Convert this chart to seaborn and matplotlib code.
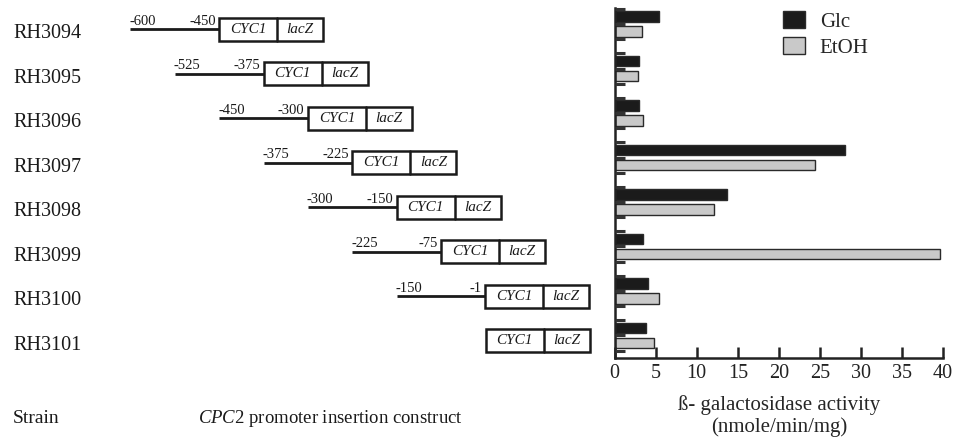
import numpy as np
import pandas as pd
import matplotlib
matplotlib.use("Agg")
import matplotlib.pyplot as plt
import matplotlib.transforms as mtransforms
from matplotlib.patches import Rectangle
import seaborn as sns

# ---------------- data ----------------
strains = ["RH3094", "RH3095", "RH3096", "RH3097", "RH3098", "RH3099", "RH3100", "RH3101"]
glc = [5.4, 2.9, 3.0, 28.1, 13.7, 3.4, 4.1, 3.8]
etoh = [3.3, 2.8, 3.4, 24.4, 12.1, 39.6, 5.4, 4.8]
insert_start = [-600, -525, -450, -375, -300, -225, -150, np.nan]
insert_end = [-450, -375, -300, -225, -150, -75, -1, np.nan]
conditions = ["Glc", "EtOH"]
xticks = [0, 5, 10, 15, 20, 25, 30, 35, 40]

df = pd.DataFrame({
    "strain": strains * 2,
    "value": glc + etoh,
    "condition": ["Glc"] * len(strains) + ["EtOH"] * len(strains),
})

# ---------------- style ----------------
sns.set_theme(style="white")
plt.rcParams["font.family"] = ["Liberation Serif", "DejaVu Serif"]
plt.rcParams["mathtext.fontset"] = "custom"
plt.rcParams["mathtext.rm"] = "Liberation Serif"
plt.rcParams["mathtext.it"] = "Liberation Serif:italic"

W, H = 954, 437
fig = plt.figure(figsize=(W / 100, H / 100), dpi=100)

ax_left_px, ax_right_px = 614.7, 943.0
ax_top_px, ax_bot_px = 8.0, 358.0
ax_rect = [ax_left_px / W, (H - ax_bot_px) / H,
           (ax_right_px - ax_left_px) / W, (ax_bot_px - ax_top_px) / H]
ylim = (7.506, -0.36)

# ---------------- bar chart ----------------
ax = fig.add_axes(ax_rect)
sns.barplot(data=df, y="strain", x="value", hue="condition", orient="h",
            order=strains, hue_order=conditions,
            palette={"Glc": "#1b1b1b", "EtOH": "#c9c9c9"},
            edgecolor="#2a2a2a", linewidth=1.0, width=0.67, gap=0.3,
            ax=ax)
ax.set_axisbelow(False)
ax.set_xlim(0, 40)
ax.set_ylim(*ylim)
ax.set_xticks(xticks)
ax.set_xticklabels([str(t) for t in xticks], fontsize=14.5)
ytk = []
for i in range(len(strains)):
    ytk += [i - 0.34, i, i + 0.34]
ax.set_yticks(ytk)
ax.set_yticklabels([])
ax.set_ylabel("")
ax.set_xlabel("\u00df- galactosidase activity\n(nmole/min/mg)", fontsize=15,
              labelpad=9, linespacing=1.15)
for s in ["top", "right"]:
    ax.spines[s].set_visible(False)
for s in ["left", "bottom"]:
    ax.spines[s].set_linewidth(1.8)
    ax.spines[s].set_color("#222222")
ax.tick_params(axis="x", bottom=True, direction="in", length=8, width=1.8, pad=4,
               colors="#222222")
ax.tick_params(axis="y", left=True, direction="in", length=7, width=2.2,
               colors="#333333")
for lab in ax.get_xticklabels():
    lab.set_color("#222222")

handles, labels = ax.get_legend_handles_labels()
ax.legend(handles, labels, loc="upper left", bbox_to_anchor=(0.482, 1.02),
          frameon=False, fontsize=15, handlelength=1.05, handleheight=0.85,
          handletextpad=0.7, labelspacing=0.25, borderpad=0)

# ---------------- construct diagram ----------------
BP_PX = 0.592
ORIGIN_PX = 485.0
xl = (-1 - ORIGIN_PX / BP_PX, -1 + (W - ORIGIN_PX) / BP_PX)
axd = fig.add_axes([0, ax_rect[1], 1, ax_rect[3]], zorder=-1)
axd.set_xlim(*xl)
axd.set_ylim(*ylim)
axd.axis("off")
axd.patch.set_alpha(0)

BOX_W = 104 / BP_PX
CYC_W = 58 / BP_PX
BOX_H = 0.52
fig_x = mtransforms.blended_transform_factory(fig.transFigure, axd.transData)

for i, name in enumerate(strains):
    yc = i + 0.12
    axd.text(13 / W, i + 0.32, name, transform=fig_x, fontsize=14.5,
             ha="left", va="baseline", color="#1a1a1a")
    s, e = insert_start[i], insert_end[i]
    box_x = e if not np.isnan(e) else 0
    if not np.isnan(s):
        axd.plot([s, e], [yc, yc], color="#1a1a1a", lw=2.0, solid_capstyle="butt")
        axd.text(s - 2, yc - 0.1, f"{int(s)}", fontsize=10.5, ha="left",
                 va="baseline", color="#1a1a1a")
        axd.text(e - 6, yc - 0.1, f"{int(e)}", fontsize=10.5, ha="right",
                 va="baseline", color="#1a1a1a")
    axd.add_patch(Rectangle((box_x, yc - BOX_H / 2), BOX_W, BOX_H,
                            facecolor="white", edgecolor="#1a1a1a", lw=1.8))
    axd.plot([box_x + CYC_W, box_x + CYC_W], [yc - BOX_H / 2, yc + BOX_H / 2],
             color="#1a1a1a", lw=1.8)
    axd.text(box_x + CYC_W / 2, yc, "CYC1", fontstyle="italic", fontsize=11,
             ha="center", va="center", color="#1a1a1a")
    axd.text(box_x + CYC_W + (BOX_W - CYC_W) / 2, yc, "lacZ", fontstyle="italic",
             fontsize=11, ha="center", va="center", color="#1a1a1a")

fig.text(13 / W, (H - 423) / H, "Strain", fontsize=14, ha="left",
         va="baseline", color="#1a1a1a")
fig.text(198 / W, (H - 423) / H, "$\\mathit{CPC2}$ promoter insertion construct",
         fontsize=13.5, ha="left", va="baseline", color="#1a1a1a")

fig.savefig("out.png", dpi=100)
